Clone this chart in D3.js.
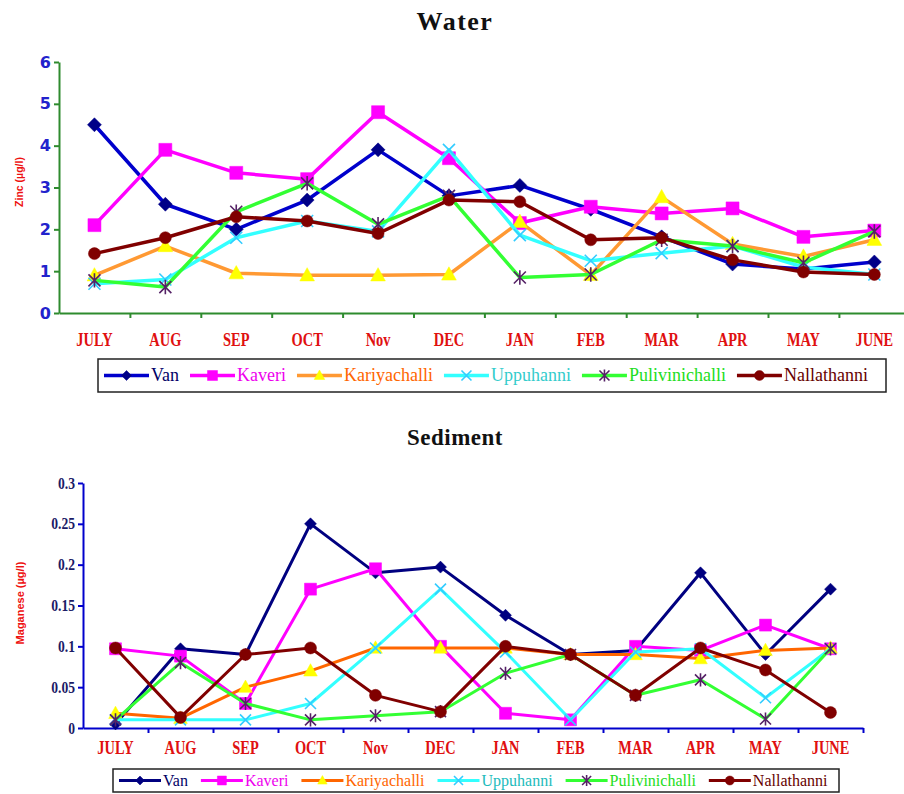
<!DOCTYPE html>
<html>
<head>
<meta charset="utf-8">
<script src="https://cdn.jsdelivr.net/npm/d3@7/dist/d3.min.js"></script>
<style>
  html, body { margin: 0; padding: 0; background: #fff; }
  svg { display: block; }
</style>
</head>
<body>
<svg id="chart" width="904" height="794"></svg>
<script>
// Monthly zinc (water) and manganese (sediment) readings at six sites
const months = ["JULY", "AUG", "SEP", "OCT", "Nov", "DEC", "JAN", "FEB", "MAR", "APR", "MAY", "JUNE"];
const sites = ["Van", "Kaveri", "Kariyachalli", "Uppuhanni", "Pulivinichalli", "Nallathanni"];

// Water: zinc (µg/l)
const waterVan            = [4.5, 2.6, 2.0, 2.7, 3.9, 2.8, 3.05, 2.48, 1.82, 1.17, 1.05, 1.22];
const waterKaveri         = [2.1, 3.9, 3.35, 3.2, 4.8, 3.7, 2.15, 2.54, 2.38, 2.5, 1.82, 1.97];
const waterKariyachalli   = [0.9, 1.6, 0.95, 0.9, 0.9, 0.92, 2.18, 0.91, 2.77, 1.65, 1.35, 1.75];
const waterUppuhanni      = [0.7, 0.8, 1.8, 2.2, 1.95, 3.9, 1.86, 1.25, 1.43, 1.6, 1.1, 0.92];
const waterPulivinichalli = [0.78, 0.62, 2.42, 3.1, 2.12, 2.8, 0.85, 0.92, 1.75, 1.6, 1.2, 1.95];
const waterNallathanni    = [1.42, 1.8, 2.3, 2.2, 1.9, 2.7, 2.66, 1.75, 1.8, 1.27, 0.98, 0.92];

// Sediment: manganese (µg/l)
const sedVan            = [0.005, 0.097, 0.09, 0.25, 0.19, 0.197, 0.138, 0.09, 0.095, 0.19, 0.09, 0.17];
const sedKaveri         = [0.097, 0.088, 0.03, 0.17, 0.195, 0.1, 0.018, 0.01, 0.1, 0.095, 0.126, 0.097];
const sedKariyachalli   = [0.018, 0.012, 0.05, 0.07, 0.098, 0.098, 0.098, 0.09, 0.09, 0.085, 0.095, 0.098];
const sedUppuhanni      = [0.01, 0.01, 0.01, 0.03, 0.098, 0.17, 0.093, 0.01, 0.093, 0.097, 0.037, 0.097];
const sedPulivinichalli = [0.01, 0.08, 0.03, 0.01, 0.015, 0.02, 0.067, 0.09, 0.04, 0.059, 0.011, 0.097];
const sedNallathanni    = [0.098, 0.013, 0.09, 0.098, 0.04, 0.02, 0.1, 0.09, 0.04, 0.098, 0.071, 0.019];

const waterTicks = [0, 1, 2, 3, 4, 5, 6];
const sedTicks = [0, 0.05, 0.1, 0.15, 0.2, 0.25, 0.3];

const svg = d3.select("#chart");

// Marker shapes (Excel-style)
function markerPath(kind, r) {
  switch (kind) {
    case "diamond": return `M0,${-r}L${r},0L0,${r}L${-r},0Z`;
    case "square": return `M${-r},${-r}H${r}V${r}H${-r}Z`;
    case "triangle": return `M0,${-r * 1.1}L${r * 1.05},${r * 0.8}L${-r * 1.05},${r * 0.8}Z`;
    case "x": return `M${-r},${-r}L${r},${r}M${-r},${r}L${r},${-r}`;
    case "star": return `M${-r},${-r}L${r},${r}M${-r},${r}L${r},${-r}M0,${-r * 1.2}V${r * 1.2}`;
    case "circle": return d3.symbol(d3.symbolCircle, Math.PI * r * r)();
  }
}

function drawMarker(g, kind, st, x, y, r) {
  const p = g.append("path").attr("d", markerPath(kind, r)).attr("transform", `translate(${x},${y})`);
  if (kind === "x" || kind === "star") {
    p.attr("fill", "none").attr("stroke", st.marker).attr("stroke-width", 1.6);
  } else {
    p.attr("fill", st.marker).attr("stroke", st.marker).attr("stroke-width", 0.5);
  }
}

function condense(sel, factor) {
  sel.each(function () {
    const len = this.getComputedTextLength();
    d3.select(this).attr("textLength", len * factor).attr("lengthAdjust", "spacingAndGlyphs");
  });
}

function drawChart(cfg) {
  const g = svg.append("g");
  const x = d3.scaleBand().domain(months).range([cfg.left, cfg.left + cfg.bandW * months.length]).padding(0);
  const edges = d3.scaleLinear().domain([0, months.length]).range(x.range());
  const y = d3.scaleLinear().domain(cfg.domain).range([cfg.bottom, cfg.top]);
  const cx = m => x(m) + x.bandwidth() / 2;

  // Title
  svg.append("text")
    .attr("x", cfg.titleX).attr("y", cfg.titleY)
    .attr("text-anchor", "middle")
    .attr("font-family", "'Liberation Serif', serif")
    .attr("font-weight", "bold").attr("font-size", cfg.titleSize)
    .attr("letter-spacing", cfg.titleSpacing)
    .attr("fill", "#111")
    .text(cfg.title);

  // Y axis
  const ya = g.append("g").attr("transform", `translate(${cfg.left},0)`)
    .call(d3.axisLeft(y).tickValues(cfg.ticks).tickSize(5).tickSizeOuter(0).tickFormat(cfg.fmt));
  ya.select(".domain").attr("stroke", cfg.axisColor).attr("stroke-width", 2);
  ya.selectAll(".tick line").attr("stroke", cfg.axisColor).attr("stroke-width", 2);
  ya.selectAll(".tick text")
    .attr("x", -cfg.yLabelGap)
    .attr("fill", cfg.yTickColor)
    .attr("font-family", cfg.yTickFont)
    .attr("font-weight", "bold")
    .attr("font-size", cfg.yTickSize);
  if (cfg.yTickCondense) condense(ya.selectAll(".tick text"), cfg.yTickCondense);

  // X axis with ticks at band edges
  const xa = g.append("g").attr("transform", `translate(0,${cfg.bottom})`)
    .call(d3.axisBottom(edges).tickValues(d3.range(1, months.length + 1)).tickSize(5).tickSizeOuter(0).tickFormat(""));
  xa.select(".domain").attr("stroke", cfg.axisColor).attr("stroke-width", 2);
  xa.selectAll(".tick line").attr("stroke", cfg.axisColor).attr("stroke-width", 2);

  // Month labels
  const ml = g.append("g").selectAll("text").data(months).join("text")
    .attr("x", d => cx(d)).attr("y", cfg.monthY)
    .attr("text-anchor", "middle")
    .attr("font-family", "'Liberation Serif', serif")
    .attr("font-size", cfg.monthSize)
    .attr("font-weight", "bold")
    .attr("fill", "#e01010")
    .text(d => d);
  condense(ml, cfg.monthCondense);

  // Y axis title
  g.append("text")
    .attr("transform", `translate(${cfg.yTitleX},${cfg.yTitleY}) rotate(-90)`)
    .attr("text-anchor", "middle")
    .attr("font-family", "'Liberation Sans', Arial, sans-serif")
    .attr("font-weight", "bold")
    .attr("font-size", cfg.yTitleSize)
    .attr("fill", "#ee1111")
    .text(cfg.yTitle);

  // Series
  const line = d3.line().x((d, i) => cx(months[i])).y(d => y(d));
  cfg.series.forEach((vals, si) => {
    const st = cfg.styles[si];
    g.append("path").datum(vals)
      .attr("d", line)
      .attr("fill", "none")
      .attr("stroke", st.line)
      .attr("stroke-width", cfg.lineW)
      .attr("stroke-linejoin", "round");
    vals.forEach((v, i) => drawMarker(g, st.kind, st, cx(months[i]), y(v), cfg.markerR[st.kind]));
  });

  // Legend
  const lg = svg.append("g");
  lg.append("rect")
    .attr("x", cfg.legend.x).attr("y", cfg.legend.y)
    .attr("width", cfg.legend.w).attr("height", cfg.legend.h)
    .attr("fill", "#fff").attr("stroke", "#222").attr("stroke-width", 1.5);
  const ly = cfg.legend.y + cfg.legend.h / 2;
  let lx = cfg.legend.x + 6;
  sites.forEach((name, si) => {
    const st = cfg.styles[si];
    lg.append("line").attr("x1", lx).attr("x2", lx + cfg.legend.sample)
      .attr("y1", ly).attr("y2", ly)
      .attr("stroke", st.line).attr("stroke-width", cfg.lineW);
    drawMarker(lg, st.kind, st, lx + cfg.legend.sample / 2, ly, cfg.legend.markerR);
    const t = lg.append("text")
      .attr("x", lx + cfg.legend.sample + 2).attr("y", ly + cfg.legend.fontSize * 0.33)
      .attr("font-family", "'Liberation Serif', serif")
      .attr("font-size", cfg.legend.fontSize)
      .attr("fill", st.text)
      .text(name);
    lx += cfg.legend.sample + 2 + t.node().getComputedTextLength() + cfg.legend.gap;
  });
}

const waterStyles = [
  { kind: "diamond", line: "#0000cc", marker: "#000088", text: "#000066" },
  { kind: "square", line: "#ff00ff", marker: "#ff00ff", text: "#ee00ee" },
  { kind: "triangle", line: "#ff9933", marker: "#ffff00", text: "#ff6600" },
  { kind: "x", line: "#33ffff", marker: "#33ccff", text: "#33cccc" },
  { kind: "star", line: "#33ff33", marker: "#552266", text: "#22dd22" },
  { kind: "circle", line: "#800000", marker: "#800000", text: "#660000" }
];
const sedStyles = [
  { kind: "diamond", line: "#000080", marker: "#000080", text: "#000066" },
  { kind: "square", line: "#ff00ff", marker: "#ff00ff", text: "#ee00ee" },
  { kind: "triangle", line: "#ff6600", marker: "#ffff00", text: "#ff6600" },
  { kind: "x", line: "#33ffff", marker: "#33ccff", text: "#22bbbb" },
  { kind: "star", line: "#33ff33", marker: "#552266", text: "#22dd22" },
  { kind: "circle", line: "#800000", marker: "#800000", text: "#660000" }
];

drawChart({
  title: "Water", titleX: 455, titleY: 30, titleSize: 26, titleSpacing: 1.5,
  left: 59, bandW: 70.9, top: 62, bottom: 313, domain: [0, 6], ticks: waterTicks,
  fmt: d3.format("d"), axisColor: "#2e8b2e",
  yTickColor: "#2222cc", yTickFont: "'DejaVu Sans', sans-serif", yTickSize: 16, yLabelGap: 8, yTickCondense: 0,
  monthY: 346, monthSize: 18, monthCondense: 0.8,
  yTitle: "Zinc (µg/l)", yTitleX: 23, yTitleY: 182, yTitleSize: 10.5,
  series: [waterVan, waterKaveri, waterKariyachalli, waterUppuhanni, waterPulivinichalli, waterNallathanni],
  styles: waterStyles, lineW: 3.5,
  markerR: { diamond: 7, square: 6.5, triangle: 7, x: 6, star: 6, circle: 6 },
  legend: { x: 98, y: 359, w: 788, h: 33, sample: 45, markerR: 5, fontSize: 18, gap: 11 }
});

drawChart({
  title: "Sediment", titleX: 455, titleY: 445, titleSize: 23, titleSpacing: 0.5,
  left: 83, bandW: 65, top: 483, bottom: 728, domain: [0, 0.3], ticks: sedTicks,
  fmt: d => String(+d.toFixed(2)), axisColor: "#0000cc",
  yTickColor: "#1a1a66", yTickFont: "'Liberation Serif', serif", yTickSize: 16, yLabelGap: 8, yTickCondense: 0.85,
  monthY: 754, monthSize: 18, monthCondense: 0.8,
  yTitle: "Maganese (µg/l)", yTitleX: 24, yTitleY: 603, yTitleSize: 11,
  series: [sedVan, sedKaveri, sedKariyachalli, sedUppuhanni, sedPulivinichalli, sedNallathanni],
  styles: sedStyles, lineW: 3,
  markerR: { diamond: 6, square: 6, triangle: 6.5, x: 5.5, star: 5.5, circle: 6 },
  legend: { x: 113, y: 769, w: 726, h: 23, sample: 42, markerR: 4.5, fontSize: 16, gap: 13 }
});
</script>
</body>
</html>
